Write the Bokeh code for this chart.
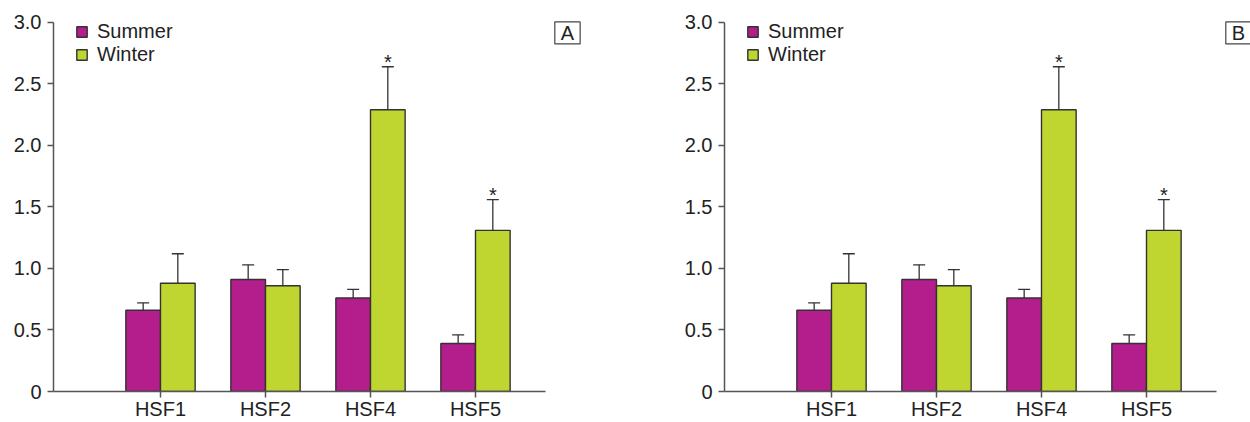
from bokeh.plotting import figure
from bokeh.models import (ColumnDataSource, Range1d, FixedTicker, CustomJSTickFormatter,
                          Whisker, TeeHead, Legend, LegendItem, Label)
from bokeh.layouts import row
from bokeh.core.properties import value
from bokeh.embed import file_html
from bokeh.resources import INLINE

categories = ["HSF1", "HSF2", "HSF4", "HSF5"]
summer = [0.66, 0.91, 0.76, 0.39]
summer_err = [0.72, 1.03, 0.83, 0.46]
winter = [0.88, 0.86, 2.29, 1.31]
winter_err = [1.12, 0.99, 2.64, 1.56]
significant = ["", "", "*", "*"]
y_ticks = [0, 0.5, 1.0, 1.5, 2.0, 2.5, 3.0]
panels = ["A", "B"]

SUMMER_C = "#B31E8C"
WINTER_C = "#BED62F"
EDGE = "#333333"
AXIS_C = "#555555"
FONT = "Liberation Sans"
FS = "20px"
BW = 0.33
X0, X1 = -0.019, 4.667
Y_MAX = 3.0
Y_TOP = Y_MAX + 8 / 123.3


def make_panel(letter, width, x_end, right_border, letter_x):
    pos = list(range(1, len(categories) + 1))
    xs = [p - BW / 2 for p in pos]
    xw = [p + BW / 2 for p in pos]
    p = figure(width=width, height=422, output_backend="svg", toolbar_location=None,
               x_range=Range1d(X0, x_end), y_range=Range1d(0, Y_TOP),
               min_border_left=53, min_border_right=right_border,
               min_border_top=14, min_border_bottom=30)
    p.outline_line_color = None
    p.grid.visible = False
    p.background_fill_color = "white"

    src_s = ColumnDataSource(dict(x=xs, top=summer, err=summer_err))
    src_w = ColumnDataSource(dict(x=xw, top=winter, err=winter_err,
                                  star=significant,
                                  sy=[e + 0.04 for e in winter_err]))

    rs = p.vbar(x="x", top="top", width=BW, bottom=0, source=src_s,
                fill_color=SUMMER_C, line_color=EDGE, line_width=1.4)
    rw = p.vbar(x="x", top="top", width=BW, bottom=0, source=src_w,
                fill_color=WINTER_C, line_color=EDGE, line_width=1.4)

    for src in (src_s, src_w):
        wk = Whisker(base="x", lower="top", upper="err", source=src,
                     line_color=EDGE, line_width=1.3,
                     upper_head=TeeHead(size=12, line_color=EDGE, line_width=1.3),
                     lower_head=None)
        p.add_layout(wk)

    p.text(x="x", y="sy", text="star", source=src_w, text_align="center",
           text_baseline="middle", text_font=value(FONT),
           text_font_size=FS, text_color="#222222")

    # axes
    p.yaxis.ticker = FixedTicker(ticks=y_ticks)
    p.yaxis.formatter = CustomJSTickFormatter(
        code='return tick == 0 ? "0" : tick.toFixed(1);')
    p.yaxis.bounds = (0, Y_MAX)
    p.xaxis.ticker = FixedTicker(ticks=pos)
    p.xaxis.major_label_overrides = {i + 1: c for i, c in enumerate(categories)}
    p.xaxis.bounds = (X0, X1)
    for ax in (p.xaxis, p.yaxis):
        ax.axis_line_color = AXIS_C
        ax.axis_line_width = 1.5
        ax.major_tick_line_color = AXIS_C
        ax.major_tick_line_width = 1.5
        ax.major_tick_in = 0
        ax.major_tick_out = 6
        ax.minor_tick_line_color = None
        ax.major_label_text_font = FONT
        ax.major_label_text_font_size = FS
        ax.major_label_text_color = "#222222"
    p.yaxis.major_label_standoff = 6
    p.xaxis.major_label_standoff = 0

    legend = Legend(items=[LegendItem(label="Summer", renderers=[rs]),
                           LegendItem(label="Winter", renderers=[rw])],
                    location=(22, 325), margin=0, padding=0,
                    glyph_width=13, glyph_height=13, label_height=23,
                    spacing=0, label_standoff=9,
                    label_text_font=FONT, label_text_font_size="20px",
                    label_text_color="#222222",
                    border_line_alpha=0, background_fill_alpha=0)
    p.add_layout(legend)

    lab = Label(x=letter_x, y=2.915, text=letter, text_align="center",
                text_baseline="middle", text_font=FONT, text_font_size=FS,
                text_color="#222222", border_line_color="#444444",
                border_line_width=1.2, background_fill_color="white",
                padding=dict(x=6, y=0))
    p.add_layout(lab)
    return p


p1 = make_panel(panels[0], 671, X0 + 537 / 105, 81, 4.876)
p2 = make_panel(panels[1], 579, X0 + 526 / 105, 0, 4.876)
layout = row(p1, p2)

open("out.html", "w").write(file_html(layout, INLINE))
